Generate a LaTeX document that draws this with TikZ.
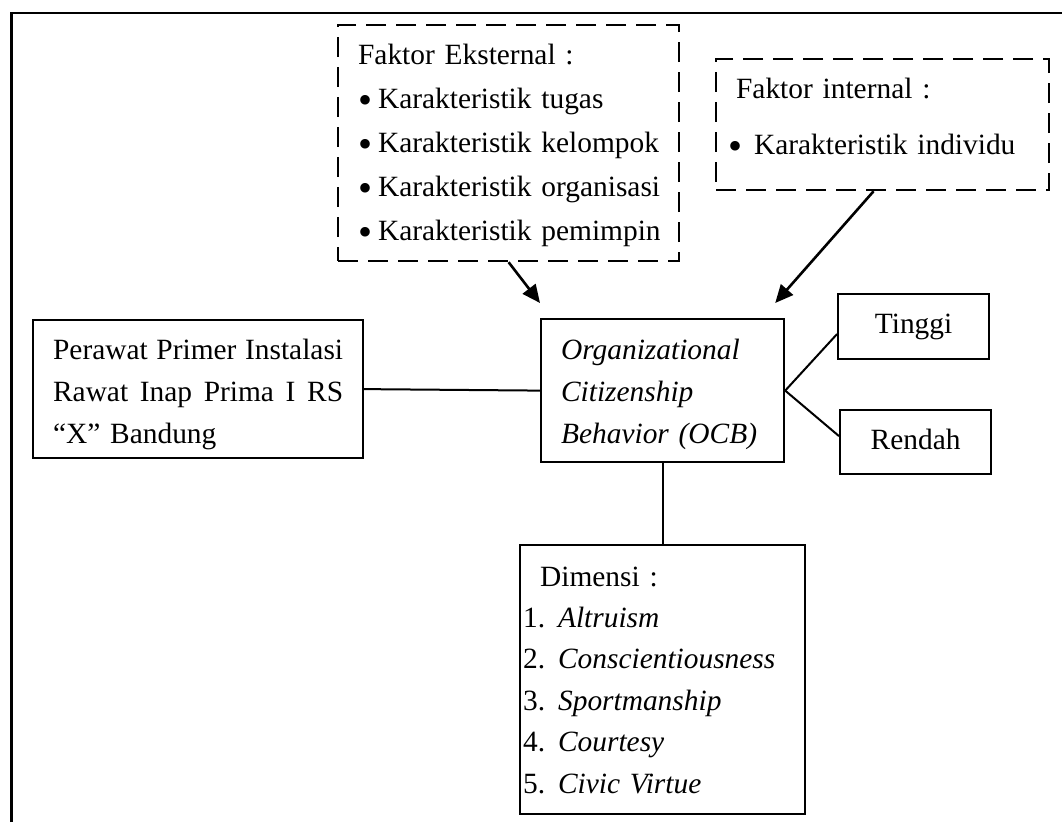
\documentclass[tikz,border=0pt]{standalone}
\usepackage{fontspec}
\setmainfont{Liberation Serif}
\usetikzlibrary{arrows.meta,calc}

\newcommand{\butir}[1][20pt]{\makebox[#1][l]{\fontsize{40}{0}\selectfont\raisebox{-5pt}{\textbullet}}}
\newcommand{\nomor}[1]{\makebox[35pt][l]{#1.}}

\begin{document}
\begin{tikzpicture}[x=1pt,y=-1pt,
    kotak/.style={draw, line width=2.2pt, inner sep=0pt, anchor=north west, align=left, font=\fontsize{29.4}{44}\selectfont},
    putus/.style={kotak, dash pattern=on 20pt off 10pt},
    panah/.style={line width=2.6pt, -{Triangle[length=18pt,width=16pt]}},
    garis/.style={line width=2pt}]
        \useasboundingbox (0,0) rectangle (1062,822); % ukuran halaman
        \draw[line width=2.8pt] (11.5,822) -- (11.5,13) -- (1062,13); % bingkai luar
        \node[putus, minimum width=341pt, minimum height=236pt, text width=301pt] (eksternal) at (337,24) {\rule{0pt}{39pt}Faktor Eksternal :\\ \mbox{\butir Karakteristik tugas}\\ \mbox{\butir Karakteristik kelompok}\\ \mbox{\butir Karakteristik organisasi}\\ \mbox{\butir Karakteristik pemimpin}\rule[-20pt]{0pt}{20pt}}; % faktor eksternal
        \node[putus, minimum width=333pt, minimum height=131pt, text width=309pt] (internal) at (715,58) {\rule{0pt}{39pt}\hspace*{8pt}Faktor internal :\\[12pt] \mbox{\butir[26pt]Karakteristik individu}\rule[-36pt]{0pt}{36pt}}; % faktor internal
        \node[kotak, minimum width=243pt, minimum height=143pt, text width=203pt, font=\fontsize{29.4}{42}\selectfont\itshape] (ocb) at (540,318) {\rule{0pt}{40pt}Organizational\\ Citizenship\\ Behavior (OCB)\rule[-19pt]{0pt}{19pt}}; % variabel utama
        \node[kotak, minimum width=330pt, minimum height=138pt, text width=290pt, font=\fontsize{29.4}{42}\selectfont] (perawat) at (32,319) {\rule{0pt}{39pt}\makebox[290pt][l]{Perawat\hfill Primer\hfill Instalasi}\\ \makebox[290pt][l]{Rawat\hfill Inap\hfill Prima\hfill I\hfill RS}\\ “X” Bandung\rule[-14pt]{0pt}{14pt}}; % subjek
        \node[kotak, minimum width=151pt, text height=39pt, text depth=26pt] (tinggi) at (837,293) {Tinggi};
        \node[kotak, minimum width=151pt, text height=39pt, text depth=25pt] (rendah) at (839,409) {Rendah};
        \node[kotak, minimum width=285pt, minimum height=269pt, text width=279pt, font=\fontsize{29.4}{41.4}\selectfont] (dimensi) at (519,544) {\rule{0pt}{41pt}\hspace*{17pt}Dimensi :\\ \nomor{1}\textit{Altruism}\\ \nomor{2}\textit{Conscientiousness}\\ \nomor{3}\textit{Sportmanship}\\ \nomor{4}\textit{Courtesy}\\ \nomor{5}\textit{Civic Virtue}\rule[-21pt]{0pt}{21pt}}; % dimensi OCB
        \coordinate (ujungA) at ($(ocb.north west)+(0,-15)$); % ujung panah kiri
        \coordinate (ujungB) at ($(ocb.north east)+(-10,-15)$); % ujung panah kanan
        \draw[panah] (eksternal.south) -- (ujungA);
        \draw[panah] ($(internal.south)+(-9,0)$) -- (ujungB);
        \draw[garis] (perawat.east) -- (ocb.west);
        \draw[garis] (ocb.east) -- ([yshift=-7.5pt]tinggi.west);
        \draw[garis] (ocb.east) -- ([yshift=6pt]rendah.west);
        \draw[garis] (ocb.south) -- (ocb.south |- dimensi.north);
    \end{tikzpicture}
\end{document}
